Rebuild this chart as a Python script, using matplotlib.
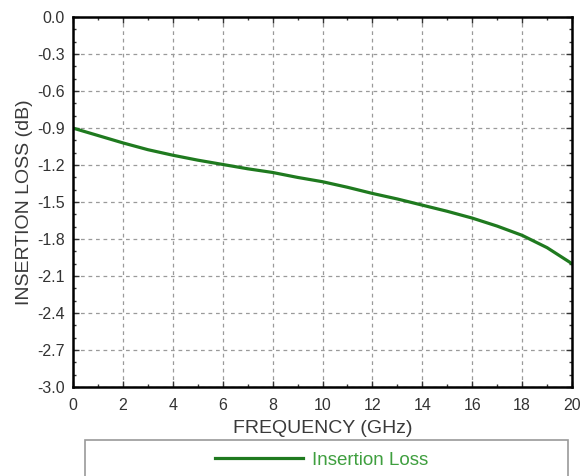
import matplotlib.pyplot as plt
from matplotlib.patches import Rectangle
from matplotlib.ticker import MultipleLocator

plt.rcParams['font.family'] = ['Liberation Sans', 'DejaVu Sans']

freq_ghz = [0, 1, 2, 3, 4, 5, 6, 7, 8, 9, 10, 11, 12, 13, 14, 15, 16, 17, 18, 19, 20]
insertion_loss = [-0.90, -0.96, -1.02, -1.075, -1.12, -1.16, -1.195, -1.23, -1.26, -1.30,
                  -1.335, -1.38, -1.43, -1.475, -1.525, -1.575, -1.63, -1.695, -1.77, -1.87, -2.00]

fig = plt.figure(figsize=(5.81, 4.76), dpi=100)
ax = fig.add_axes([0.1256, 0.187, 0.859, 0.777])

ax.plot(freq_ghz, insertion_loss, color="#1f7a1f", lw=2.3, label="Insertion Loss",
        solid_joinstyle="round")

ax.set_xlim(0, 20)
ax.set_ylim(-3.0, 0.0)
ax.xaxis.set_major_locator(MultipleLocator(2))
ax.xaxis.set_minor_locator(MultipleLocator(1))
ax.yaxis.set_major_locator(MultipleLocator(0.3))
ax.yaxis.set_minor_locator(MultipleLocator(0.1))
ax.set_yticklabels([f"{v:.1f}" for v in ax.get_yticks()])

ax.tick_params(which="both", direction="in", top=True, right=True, labelsize=11.5, colors="#333333")
ax.tick_params(which="major", length=4, width=1)
ax.tick_params(which="minor", length=2.5, width=1)
ax.tick_params(axis="y", which="major", pad=6)
ax.tick_params(axis="x", which="major", pad=8)
for s in ax.spines.values():
    s.set_linewidth(1.8)
    s.set_color("black")

ax.grid(True, which="major", color="#9a9a9a", linestyle=(0, (3, 3)), lw=0.9)

ax.set_xlabel("FREQUENCY (GHz)", fontsize=14, color="#3a3a3a", labelpad=5)
ax.set_ylabel("INSERTION LOSS (dB)", fontsize=14, color="#3a3a3a", labelpad=3)

# legend box below the axes (runs off the bottom edge)
fig.patches.append(Rectangle((85 / 581, -0.05), 483 / 581, (476 - 440) / 476 + 0.05,
                             transform=fig.transFigure, fill=False, edgecolor="#9a9a9a", lw=1.2))
leg = fig.legend(loc="center", bbox_to_anchor=(0.554, 1 - 460 / 476), frameon=False,
                 fontsize=13.5, handlelength=4.7, handletextpad=0.5)
for t in leg.get_texts():
    t.set_color("#3f9f3f")

fig.savefig("out.png", dpi=100)
